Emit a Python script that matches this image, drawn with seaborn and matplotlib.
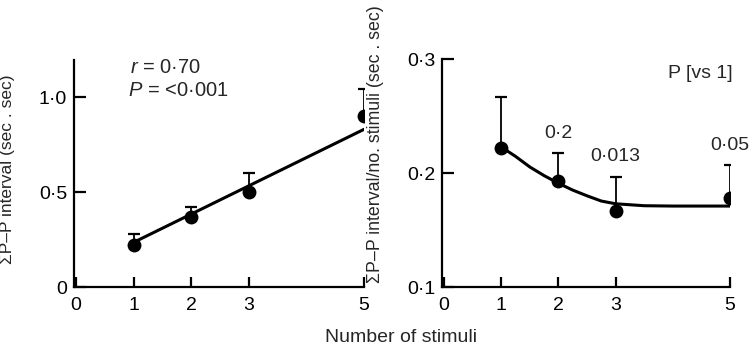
import numpy as np
import pandas as pd
import matplotlib
matplotlib.use("Agg")
import matplotlib.pyplot as plt
import seaborn as sns

# ---- data ----
stimuli = [1, 2, 3, 5]
total_pp = [0.22, 0.37, 0.50, 0.90]          # left panel means
total_pp_err = [0.06, 0.05, 0.10, 0.14]      # upper SE
fit_left_x = [1, 5]
fit_left_y = [0.235, 0.83]

per_stim = [0.222, 0.193, 0.167, 0.178]      # right panel means
per_stim_err = [0.045, 0.0245, 0.0295, 0.029]
curve_x = [1, 1.25, 1.5, 1.75, 2, 2.25, 2.5, 2.75, 3, 3.5, 4, 5]
curve_y = [0.2228, 0.2146, 0.2053, 0.1977, 0.191, 0.185, 0.180, 0.1754,
           0.173, 0.1713, 0.171, 0.171]
p_labels = ["0·2", "0·013", "0·05"]           # for stimuli 2, 3, 5

x_ticks = [0, 1, 2, 3, 5]
left_yticks = [0, 0.5, 1.0]
left_yticklabels = ["0", "0·5", "1·0"]
right_yticks = [0.1, 0.2, 0.3]
right_yticklabels = ["0·1", "0·2", "0·3"]

sns.set_theme(style="ticks")
plt.rcParams["font.family"] = ["Liberation Sans", "DejaVu Sans"]
plt.rcParams["mathtext.fontset"] = "custom"
plt.rcParams["mathtext.it"] = "Liberation Sans:italic"
plt.rcParams["mathtext.rm"] = "Liberation Sans"

fig = plt.figure(figsize=(7.53, 3.5), dpi=100)
axL = fig.add_axes([74 / 753, 63 / 350, 290 / 753, 227 / 350])
axR = fig.add_axes([442 / 753, 63 / 350, 288 / 753, 228 / 350])

dfL = pd.DataFrame({"x": stimuli, "y": total_pp, "e": total_pp_err})
dfR = pd.DataFrame({"x": stimuli, "y": per_stim, "e": per_stim_err})

def draw(ax, df, fx, fy):
    ax.errorbar(df["x"], df["y"], yerr=[np.zeros(len(df)), df["e"]],
                fmt="none", ecolor="black", elinewidth=1.3, capsize=4.5,
                capthick=1.6, zorder=2)
    sns.lineplot(x=fx, y=fy, ax=ax, color="black", linewidth=2.2,
                 sort=False, zorder=3)
    sns.scatterplot(data=df, x="x", y="y", ax=ax, color="black", s=100,
                    edgecolor="black", linewidth=0, zorder=4)

draw(axL, dfL, fit_left_x, fit_left_y)
draw(axR, dfR, curve_x, curve_y)

for ax in (axL, axR):
    ax.set_xlim(-0.035, 5.0)
    ax.set_xticks(x_ticks)
    ax.set_xticklabels([str(t) for t in x_ticks])
    for s in ("top", "right"):
        ax.spines[s].set_visible(False)
    for s in ("left", "bottom"):
        ax.spines[s].set_linewidth(1.6)
        ax.spines[s].set_color("black")
    ax.tick_params(axis="both", direction="in", width=1.6,
                   colors="black", labelsize=14)
    ax.tick_params(axis="x", pad=7, length=7)
    ax.tick_params(axis="y", pad=5, length=8.5)
    ax.set_xlabel("")
    ax.set_facecolor("white")

axL.set_ylim(0, 1.195)
axL.set_yticks(left_yticks)
axL.set_yticklabels(left_yticklabels)
axL.set_ylabel("ΣP–P interval (sec . sec)", fontsize=12.5)
axL.yaxis.set_label_coords(-0.205, 0.52)

axR.set_ylim(0.1, 0.3)
axR.set_yticks(right_yticks)
axR.set_yticklabels(right_yticklabels)
axR.set_ylabel("ΣP–P interval/no. stimuli (sec . sec)", fontsize=12.8)
axR.yaxis.set_label_coords(-0.2, 0.625)

axL.text(0.93, 1.158, "$r$ = 0·70", fontsize=14.5, va="center", ha="left")
axL.text(0.90, 1.037, "$P$ = <0·001", fontsize=14.5, va="center", ha="left")

axR.text(4.48, 0.2877, "P [vs 1]", fontsize=14, va="center", ha="center")
for xi, yi, ei, lab in zip(stimuli[1:], per_stim[1:], per_stim_err[1:], p_labels):
    axR.annotate(lab, xy=(xi, yi + ei), xytext=(0, 20),
                 textcoords="offset pixels", ha="center", va="center",
                 fontsize=14)

fig.text(401 / 753, 1 - 338 / 350, "Number of stimuli", ha="center",
         va="center", fontsize=14)

fig.savefig("out.png", dpi=100, facecolor="white")
